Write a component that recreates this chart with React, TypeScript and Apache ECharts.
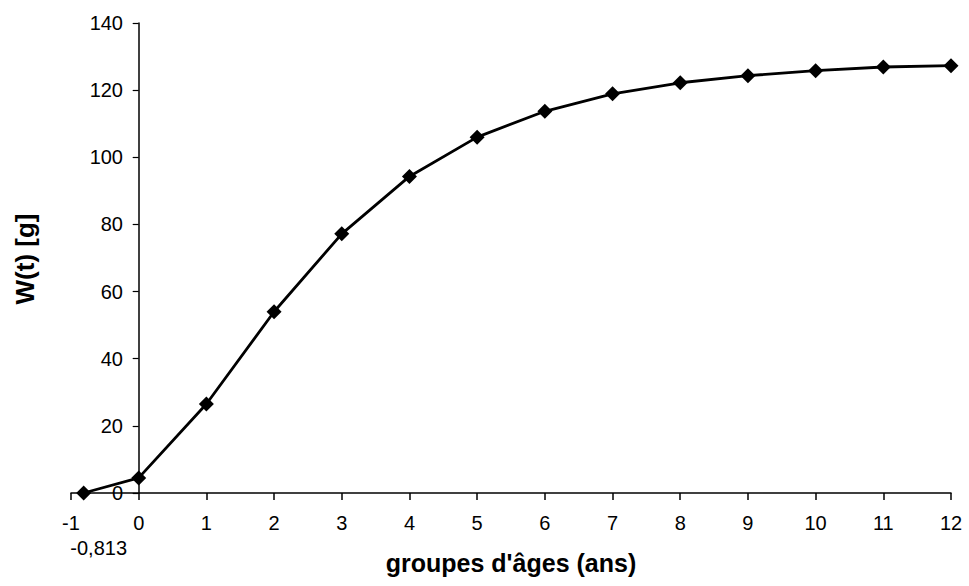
import React, { useEffect, useRef } from "react";
import * as echarts from "echarts";

const ages = [-0.813, 0, 1, 2, 3, 4, 5, 6, 7, 8, 9, 10, 11, 12];
const weights = [0, 4.5, 26.5, 54, 77.2, 94.3, 106, 113.7, 118.9, 122.2, 124.3, 125.8, 126.9, 127.3];
const xTitle = "groupes d'âges (ans)";
const yTitle = "W(t) [g]";
const t0Label = "-0,813";

export default function App() {
  const ref = useRef<HTMLDivElement>(null);
  useEffect(() => {
    if (!ref.current) return;
    const chart = echarts.init(ref.current, null, { renderer: "svg" });
    const font = "'Liberation Sans', Arial, sans-serif";
    const data = ages.map((a, i) =>
      i === 0
        ? {
            value: [a, weights[i]],
            label: {
              show: true,
              formatter: t0Label,
              position: "bottom",
              offset: [15, 32],
              color: "#000",
              fontSize: 20,
              fontFamily: font,
            },
          }
        : { value: [a, weights[i]] }
    );
    chart.setOption({
      animation: false,
      backgroundColor: "#fff",
      grid: {
        left: 71,
        right: 18,
        top: 23,
        bottom: 93,
        containLabel: false,
        outerBoundsMode: "none",
      },
      graphic: [
        {
          type: "text",
          x: 25,
          y: 259,
          rotation: Math.PI / 2,
          style: {
            text: yTitle,
            fill: "#000",
            font: `bold 26px ${font}`,
            textAlign: "center",
            textVerticalAlign: "middle",
          },
        },
      ],
      xAxis: {
        type: "value",
        min: -1,
        max: 12,
        interval: 1,
        name: xTitle,
        nameLocation: "middle",
        nameGap: 57,
        nameTextStyle: { color: "#000", fontSize: 25, fontWeight: "bold", fontFamily: font },
        axisLine: { onZero: true, lineStyle: { color: "#000", width: 1.5 } },
        axisTick: { show: true, length: 7, lineStyle: { color: "#000", width: 1.5 } },
        axisLabel: { color: "#000", fontSize: 20, fontFamily: font, margin: 20 },
        splitLine: { show: false },
      },
      yAxis: {
        type: "value",
        min: 0,
        max: 140,
        interval: 20,
        axisLine: { show: true, onZero: true, lineStyle: { color: "#000", width: 1.5 } },
        axisTick: { show: true, length: 6, lineStyle: { color: "#000", width: 1.2 } },
        axisLabel: { color: "#000", fontSize: 20, fontFamily: font, margin: -52 },
        splitLine: { show: false },
      },
      series: [
        {
          type: "line",
          data,
          symbol: "diamond",
          symbolSize: 15,
          itemStyle: { color: "#000" },
          lineStyle: { color: "#000", width: 2.8 },
          showSymbol: true,
        },
      ],
    });
    return () => chart.dispose();
  }, []);
  return (
    <div
      ref={ref}
      style={{ position: "fixed", left: 0, top: 0, width: 969, height: 586, background: "#fff" }}
    />
  );
}
